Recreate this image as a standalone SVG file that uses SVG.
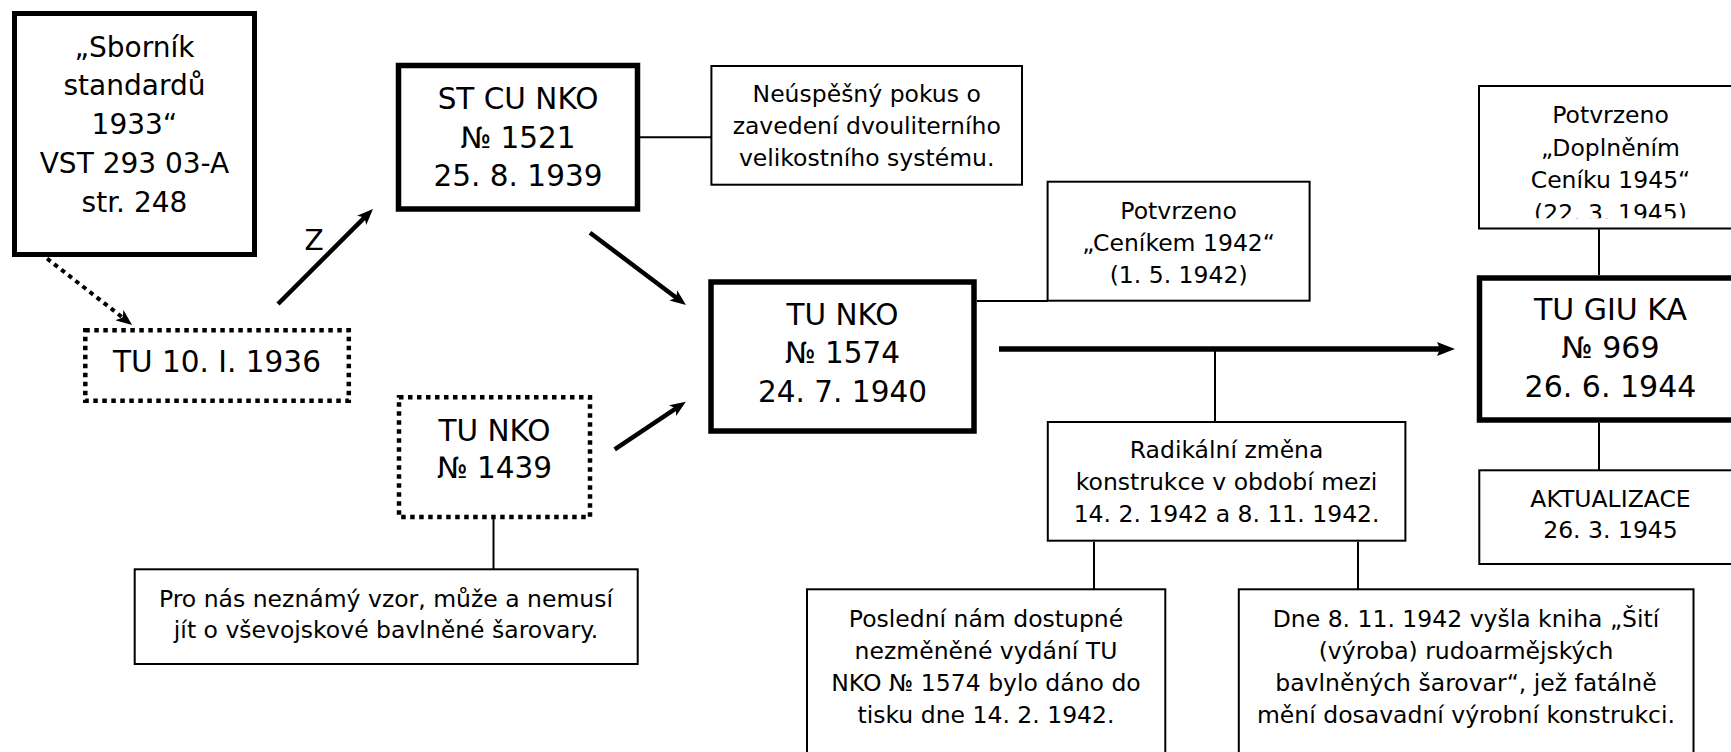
<svg xmlns="http://www.w3.org/2000/svg" width="1731" height="752" viewBox="0 0 1731 752">
<style>
text{font-family:"DejaVu Sans",Verdana,sans-serif;text-anchor:middle;fill:#000}
.big{font-size:29.5px}
.sb{font-size:28px}
.gk{font-size:30px}
.sm{font-size:23.5px}
.thick{fill:#fff;stroke:#000;stroke-width:5.5}
.thin{fill:#fff;stroke:#000;stroke-width:2}
.dot{fill:#fff;stroke:#000;stroke-width:4.5;stroke-dasharray:4.5 4.5}
.conn{fill:none;stroke:#000;stroke-width:2}
.arr{fill:none;stroke:#000;stroke-width:4.5;marker-end:url(#ah)}
.arrd{fill:none;stroke:#000;stroke-width:4;stroke-dasharray:4.5 4.5;marker-end:url(#ah)}
.arrm{fill:none;stroke:#000;stroke-width:5.5;marker-end:url(#ahm)}
</style>
<defs>
<marker id="ah" markerUnits="userSpaceOnUse" markerWidth="16" markerHeight="13" refX="6" refY="6.5" orient="auto">
<path d="M0,0 L16,6.5 L0,13 L4,6.5 z" fill="#000"/>
</marker>
<marker id="ahm" markerUnits="userSpaceOnUse" markerWidth="18" markerHeight="14" refX="8" refY="7" orient="auto">
<path d="M0,0 L18,7 L0,14 L3,7 z" fill="#000"/>
</marker>
<clipPath id="clipD"><rect x="1470" y="80" width="270" height="138.3"/></clipPath>
</defs>
<rect width="1731" height="752" fill="#fff"/>
<g id="connectors">
<path class="conn" d="M640,137.3 H711"/>
<path class="conn" d="M977,301 H1048"/>
<path class="conn" d="M1215,349 V422"/>
<path class="conn" d="M1094,541.7 V589.3"/>
<path class="conn" d="M1358,541.7 V589.3"/>
<path class="conn" d="M1599,229.3 V275"/>
<path class="conn" d="M1599,422.7 V470.3"/>
<path class="conn" d="M493.5,519 V569.3"/>
<path class="arrd" d="M40,253 L124.2,318.8"/>
<path class="arr" d="M278,304 L365.9,216.1"/>
<path class="arr" d="M590,232.7 L678,299"/>
<path class="arr" d="M614.7,449.3 L677.5,407.3"/>
<path class="arrm" d="M999,349 H1445"/>
<text class="sb" x="314" y="250">Z</text>
</g>
<g id="sbornik">
<rect class="thick" x="14.5" y="13.5" width="240" height="241" style="stroke-width:5"/>
<text class="sb" x="134.5" y="56.5">„Sborník</text>
<text class="sb" x="134.5" y="95">standardů</text>
<text class="sb" x="134.5" y="134">1933“</text>
<text class="sb" x="134.5" y="173">VST 293 03-A</text>
<text class="sb" x="134.5" y="211.5">str. 248</text>
</g>
<g id="tu1936">
<rect class="dot" x="85.3" y="330.3" width="263.5" height="70.5"/>
<text class="big" x="217" y="371.7">TU 10. I. 1936</text>
</g>
<g id="stcu">
<rect class="thick" x="398.5" y="65.5" width="239" height="143.5"/>
<text class="big" x="518" y="109">ST CU NKO</text>
<text class="big" x="518" y="147.7">№ 1521</text>
<text class="big" x="518" y="186">25. 8. 1939</text>
</g>
<g id="neuspesny">
<rect class="thin" x="711.4" y="66" width="310.6" height="118.7"/>
<text class="sm" x="866.7" y="102">Neúspěšný pokus o</text>
<text class="sm" x="866.7" y="134">zavedení dvouliterního</text>
<text class="sm" x="866.7" y="166">velikostního systému.</text>
</g>
<g id="tu1439">
<rect class="dot" x="399" y="397.3" width="191" height="119.7"/>
<text class="big" x="494.5" y="440.7">TU NKO</text>
<text class="big" x="494.5" y="478.3">№ 1439</text>
</g>
<g id="pronas">
<rect class="thin" x="134.7" y="569.3" width="503" height="94.7"/>
<text class="sm" x="386" y="606.7">Pro nás neznámý vzor, může a nemusí</text>
<text class="sm" x="386" y="638.3">jít o vševojskové bavlněné šarovary.</text>
</g>
<g id="tunko1574">
<rect class="thick" x="711" y="282" width="263" height="149"/>
<text class="big" x="842.5" y="325">TU NKO</text>
<text class="big" x="842.5" y="363.3">№ 1574</text>
<text class="big" x="842.5" y="401.7">24. 7. 1940</text>
</g>
<g id="cenikem">
<rect class="thin" x="1047.6" y="181.7" width="262" height="119"/>
<text class="sm" x="1178.6" y="219.3">Potvrzeno</text>
<text class="sm" x="1178.6" y="251">„Ceníkem 1942“</text>
<text class="sm" x="1178.6" y="283.3">(1. 5. 1942)</text>
</g>
<g id="radikalni">
<rect class="thin" x="1047.8" y="422" width="357.6" height="118.7"/>
<text class="sm" x="1226.6" y="458.3">Radikální změna</text>
<text class="sm" x="1226.6" y="490">konstrukce v období mezi</text>
<text class="sm" x="1226.6" y="521.7">14. 2. 1942 a 8. 11. 1942.</text>
</g>
<g id="posledni">
<rect class="thin" x="807" y="589.3" width="358.3" height="200"/>
<text class="sm" x="986" y="627">Poslední nám dostupné</text>
<text class="sm" x="986" y="659">nezměněné vydání TU</text>
<text class="sm" x="986" y="691">NKO № 1574 bylo dáno do</text>
<text class="sm" x="986" y="723">tisku dne 14. 2. 1942.</text>
</g>
<g id="dne">
<rect class="thin" x="1238.8" y="589.3" width="454.7" height="200"/>
<text class="sm" x="1466" y="627">Dne 8. 11. 1942 vyšla kniha „Šití</text>
<text class="sm" x="1466" y="659">(výroba) rudoarmějských</text>
<text class="sm" x="1466" y="691">bavlněných šarovar“, jež fatálně</text>
<text class="sm" x="1466" y="723">mění dosavadní výrobní konstrukci.</text>
</g>
<g id="doplnenim">
<rect class="thin" x="1479" y="86" width="300" height="142.5"/>
<g clip-path="url(#clipD)">
<text class="sm" x="1610.5" y="122.7">Potvrzeno</text>
<text class="sm" x="1610.5" y="155.5">„Doplněním</text>
<text class="sm" x="1610.5" y="188">Ceníku 1945“</text>
<text class="sm" x="1610.5" y="220.5">(22. 3. 1945)</text>
</g>
</g>
<g id="tugiuka">
<rect class="thick" x="1479.5" y="278" width="300" height="142"/>
<text class="gk" x="1610.5" y="320">TU GIU KA</text>
<text class="gk" x="1610.5" y="358.3">№ 969</text>
<text class="gk" x="1610.5" y="397.3">26. 6. 1944</text>
</g>
<g id="aktualizace">
<rect class="thin" x="1479.3" y="470.3" width="300" height="93.7"/>
<text class="sm" x="1610.5" y="506.7">AKTUALIZACE</text>
<text class="sm" x="1610.5" y="538.3">26. 3. 1945</text>
</g>
</svg>
